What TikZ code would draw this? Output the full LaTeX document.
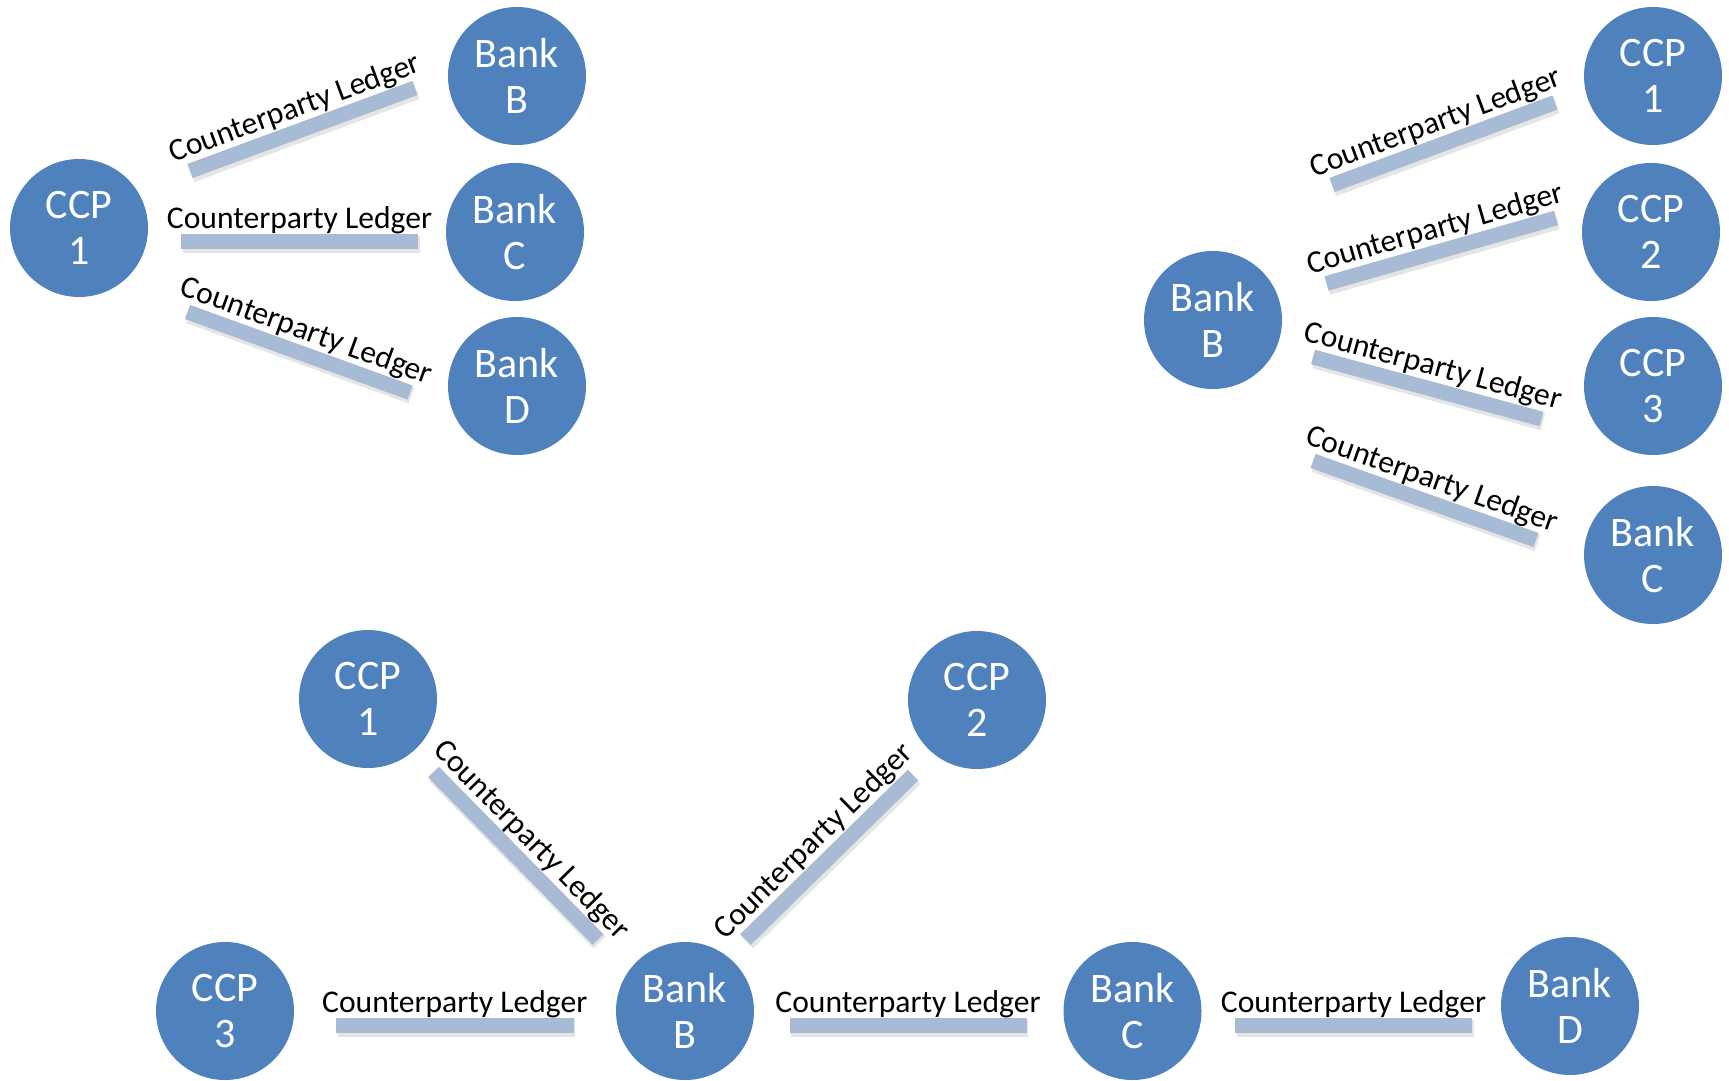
\documentclass[tikz,border=0pt]{standalone}
\usepackage{fontspec}
\setmainfont{Carlito}
\definecolor{nodeblue}{HTML}{4F81BD}
\definecolor{ledgerbar}{HTML}{A7BBD5}
\tikzset{
  party/.style={circle, fill=nodeblue, minimum size=69pt, inner sep=0pt,
    text=white, align=center, font=\fontsize{21}{23}\selectfont},
  ledger/.style={draw=ledgerbar, line width=7.5pt, line cap=butt},
  ledgershadow/.style={draw=black, opacity=0.10, line width=8.5pt, line cap=butt},
  ledgerlabel/.style={sloped, above=6.75pt, anchor=base, inner sep=0pt,
    text=black, font=\fontsize{15.8}{19}\selectfont},
}
% a ledger bar between two named end points, with its soft shadow and label
\newcommand{\ledgerbar}[2]{%
  \draw[ledgershadow] ([shift={(1.5,3)}]#1) -- ([shift={(1.5,3)}]#2);
  \draw[ledger] (#1) -- (#2) node[ledgerlabel, pos=0.5] {Counterparty Ledger};
}
\begin{document}
\begin{tikzpicture}[x=0.5pt, y=-0.5pt]
\useasboundingbox (0,0) rectangle (1729,1081);

% ---- CCP 1 and its member banks ----
\node[party] (tlccp)   at (79,228)  {CCP\\1};
\node[party] (tlbankb) at (517,76)  {Bank\\B};
\node[party] (tlbankc) at (515,232) {Bank\\C};
\node[party] (tlbankd) at (517,386) {Bank\\D};
\coordinate (tl1a) at (190,171);   \coordinate (tl1b) at (415,88);
\coordinate (tl2a) at (181,241.5); \coordinate (tl2b) at (418,241.5);
\coordinate (tl3a) at (187.5,312); \coordinate (tl3b) at (410,392.5);
\ledgerbar{tl1a}{tl1b}
\ledgerbar{tl2a}{tl2b}
\ledgerbar{tl3a}{tl3b}

% ---- Bank B and its counterparties ----
\node[party] (trbankb) at (1213,320) {Bank\\B};
\node[party] (trccpa)  at (1653,76)  {CCP\\1};
\node[party] (trccpb)  at (1651,232) {CCP\\2};
\node[party] (trccpc)  at (1653,386) {CCP\\3};
\node[party] (trbankc) at (1653,555) {Bank\\C};
\coordinate (tr1a) at (1332,185);   \coordinate (tr1b) at (1555,102.5);
\coordinate (tr2a) at (1326.5,283.5); \coordinate (tr2b) at (1556,218);
\coordinate (tr3a) at (1313,357);   \coordinate (tr3b) at (1541.5,419);
\coordinate (tr4a) at (1313,461);   \coordinate (tr4b) at (1536,540);
\ledgerbar{tr1a}{tr1b}
\ledgerbar{tr2a}{tr2b}
\ledgerbar{tr3a}{tr3b}
\ledgerbar{tr4a}{tr4b}

% ---- network view ----
\node[party] (bccpa)  at (368,699)    {CCP\\1};
\node[party] (bccpb)  at (977,700)    {CCP\\2};
\node[party] (bccpc)  at (225,1011)   {CCP\\3};
\node[party] (bbankb) at (685,1011)   {Bank\\B};
\node[party] (bbankc) at (1132.5,1011) {Bank\\C};
\node[party] (bbankd) at (1570,1006)  {Bank\\D};
\coordinate (baa) at (433.5,772);   \coordinate (bab) at (598,939.5);
\coordinate (bba) at (745.5,939.5); \coordinate (bbb) at (913,775);
\coordinate (bca) at (336,1025.5);  \coordinate (bcb) at (573.5,1025.5);
\coordinate (bda) at (789.5,1025.5); \coordinate (bdb) at (1026.5,1025.5);
\coordinate (bea) at (1235,1025.5); \coordinate (beb) at (1472,1025.5);
\ledgerbar{baa}{bab}
\ledgerbar{bba}{bbb}
\ledgerbar{bca}{bcb}
\ledgerbar{bda}{bdb}
\ledgerbar{bea}{beb}
\end{tikzpicture}
\end{document}
